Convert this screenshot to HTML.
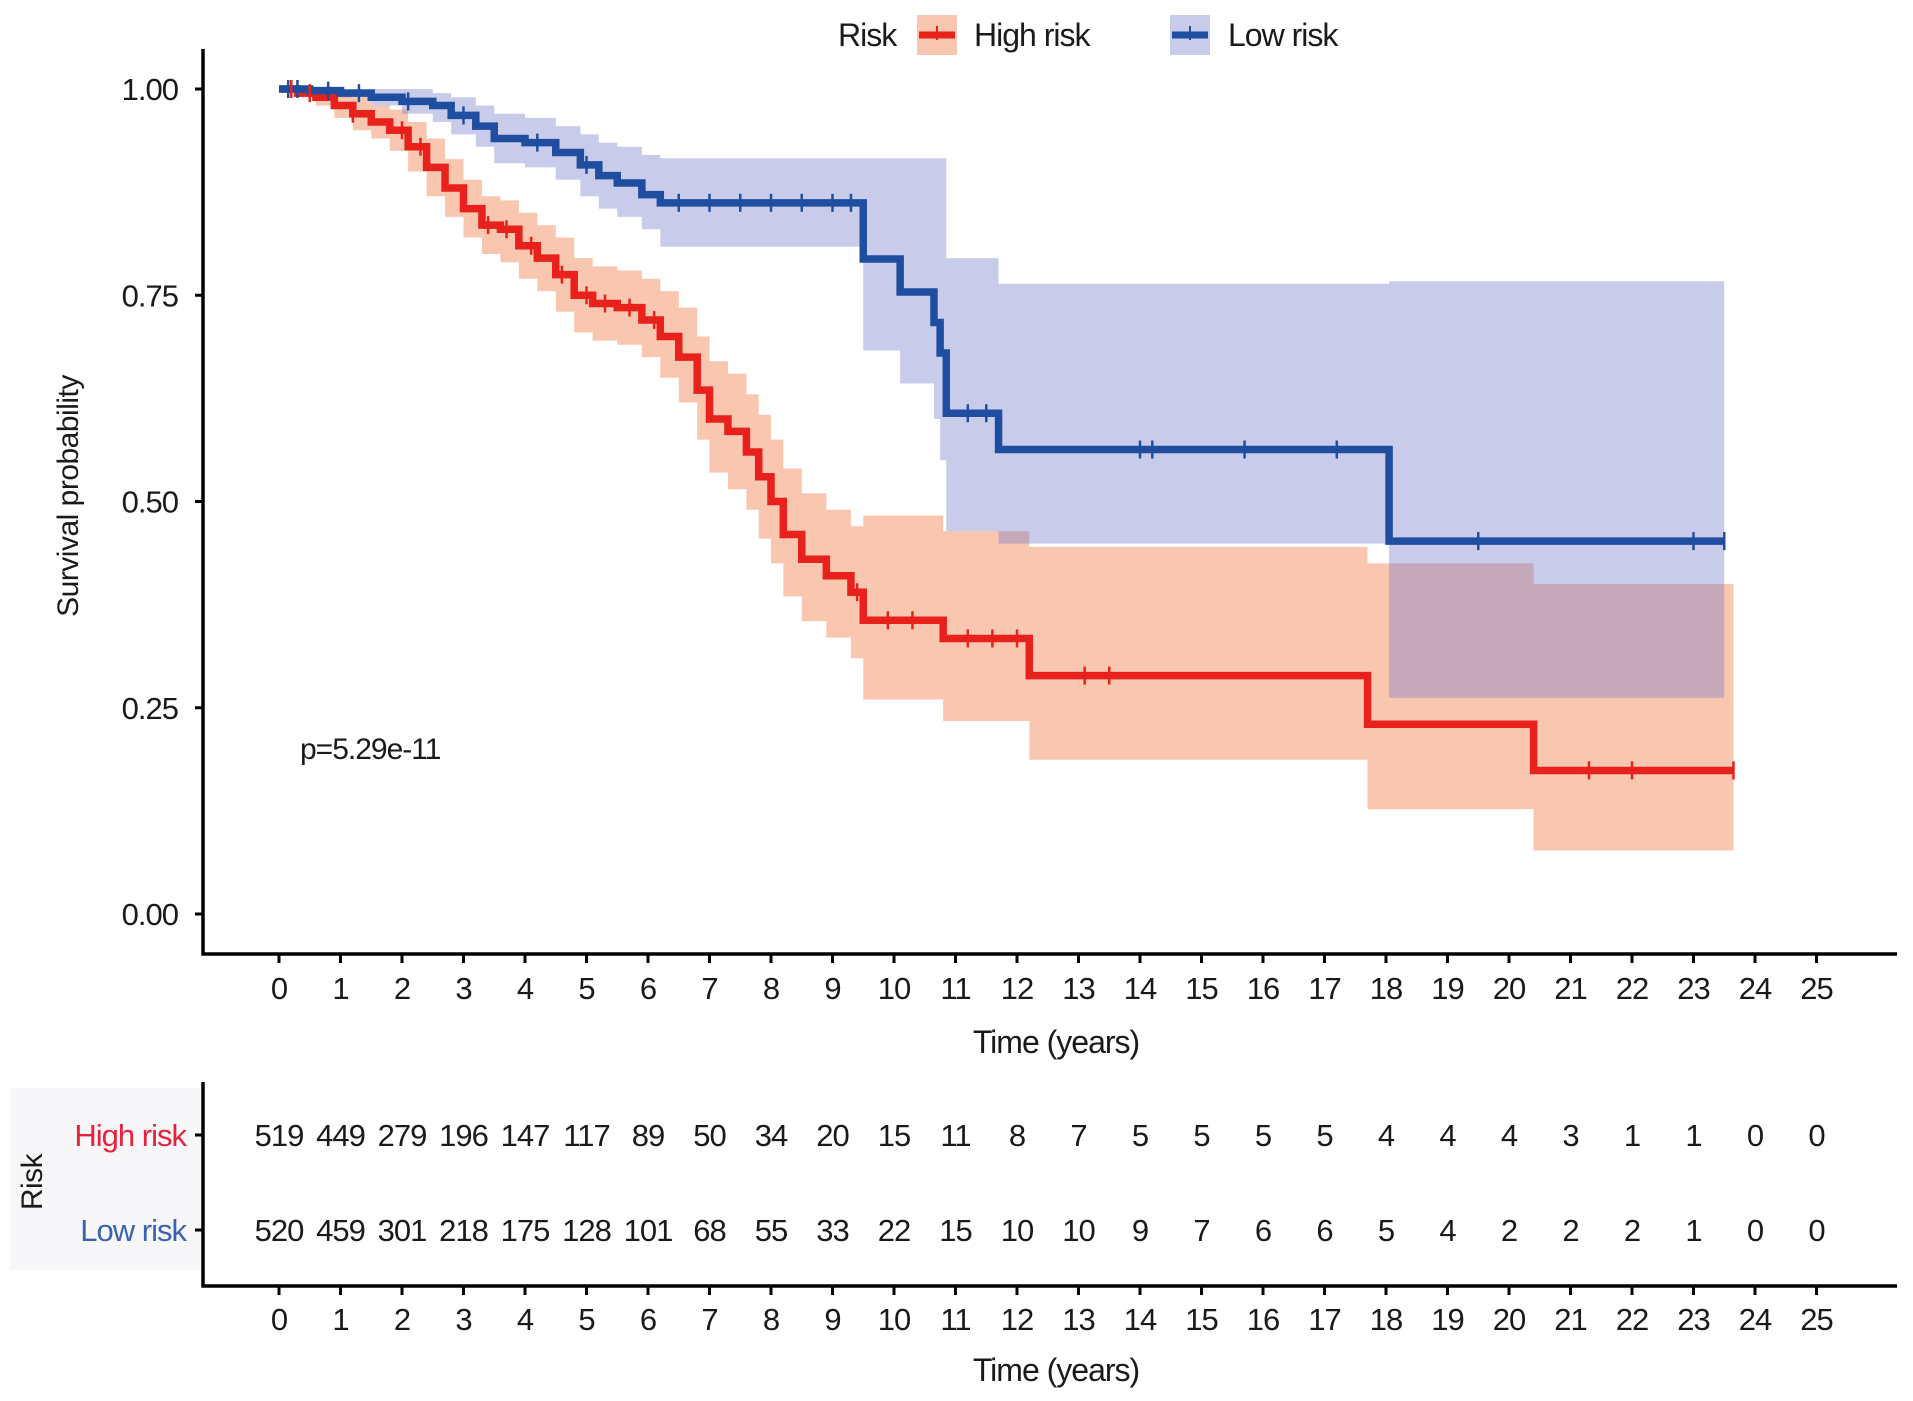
<!DOCTYPE html>
<html><head><meta charset="utf-8"><style>
html,body{margin:0;padding:0;background:#fff;}
svg{display:block;font-family:"Liberation Sans",Arial,sans-serif;}
</style></head><body>
<svg id="chart" width="1913" height="1401" viewBox="0 0 1913 1401">
<rect x="10" y="1088" width="193" height="182" fill="#f7f7fa"/>
<g id="bands"></g>
<g id="lines"></g>
<g id="axes"></g>
<g>
<text x="838" y="46" font-size="32" letter-spacing="-1" fill="#1a1a1a">Risk</text>
<g>
<rect x="917" y="15" width="40" height="40" fill="#f9c6b0"/>
<line x1="919" y1="35" x2="955" y2="35" stroke="#e8211c" stroke-width="7"/>
<line x1="937" y1="26" x2="937" y2="40" stroke="#e8211c" stroke-width="2"/>
<text x="974" y="46" font-size="32" letter-spacing="-1" fill="#1a1a1a">High risk</text></g>
<g>
<rect x="1170" y="15" width="40" height="40" fill="#c9cbeb"/>
<line x1="1172" y1="35" x2="1208" y2="35" stroke="#1f4ea1" stroke-width="7"/>
<line x1="1190" y1="26" x2="1190" y2="40" stroke="#1f4ea1" stroke-width="2"/>
<text x="1228" y="46" font-size="32" letter-spacing="-1" fill="#1a1a1a">Low risk</text></g>
</g>
<text x="300" y="759" font-size="30" letter-spacing="-1" fill="#1a1a1a">p=5.29e-11</text>
<text transform="translate(78,496) rotate(-90)" text-anchor="middle" font-size="30" letter-spacing="-0.5" fill="#1a1a1a">Survival probability</text>
<text x="1056" y="1053" text-anchor="middle" font-size="32" letter-spacing="-1" fill="#1a1a1a">Time (years)</text>
<text x="1056" y="1381" text-anchor="middle" font-size="32" letter-spacing="-1" fill="#1a1a1a">Time (years)</text>
<text transform="translate(42,1182) rotate(-90)" text-anchor="middle" font-size="30" letter-spacing="-0.5" fill="#1a1a1a">Risk</text>
<text x="186" y="1146" text-anchor="end" font-size="31" letter-spacing="-1" fill="#e8213a">High risk</text>
<text x="186" y="1241" text-anchor="end" font-size="31" letter-spacing="-1" fill="#3a62ad">Low risk</text>
<g id="table"></g>
</svg>
<script>
const xTicks=[0,1,2,3,4,5,6,7,8,9,10,11,12,13,14,15,16,17,18,19,20,21,22,23,24,25];
const yTicks=[0,0.25,0.5,0.75,1.0];
const yTickLabels=["0.00","0.25","0.50","0.75","1.00"];
const redT=[0,0.3,0.6,0.9,1.2,1.5,1.8,2.1,2.4,2.7,3.0,3.3,3.6,3.9,4.2,4.5,4.8,5.1,5.5,5.9,6.2,6.5,6.8,7.0,7.3,7.6,7.8,8.0,8.2,8.5,8.9,9.3,9.5,10.8,12.2,17.7,20.4];
const redS=[1.0,0.995,0.99,0.98,0.97,0.96,0.95,0.93,0.905,0.88,0.855,0.835,0.83,0.81,0.795,0.775,0.75,0.74,0.735,0.72,0.70,0.675,0.635,0.60,0.585,0.56,0.53,0.50,0.46,0.43,0.41,0.39,0.356,0.334,0.289,0.23,0.174];
const redHi=[1,1,1,0.995,0.99,0.98,0.975,0.96,0.94,0.915,0.89,0.87,0.865,0.85,0.835,0.82,0.795,0.785,0.78,0.77,0.755,0.735,0.70,0.67,0.655,0.63,0.605,0.575,0.54,0.51,0.49,0.47,0.483,0.464,0.445,0.425,0.40];
const redLo=[1,0.99,0.98,0.965,0.95,0.94,0.925,0.90,0.87,0.845,0.82,0.80,0.79,0.77,0.755,0.73,0.705,0.695,0.69,0.675,0.65,0.62,0.575,0.535,0.515,0.49,0.455,0.425,0.385,0.355,0.335,0.31,0.26,0.234,0.187,0.127,0.077];
const redEnd=23.65;
const blueT=[0,0.5,1.0,1.5,2.0,2.5,2.8,3.2,3.5,4.0,4.5,4.9,5.2,5.5,5.9,6.2,9.5,10.1,10.65,10.75,10.85,11.7,18.05];
const blueS=[1.0,0.998,0.995,0.99,0.985,0.98,0.968,0.955,0.94,0.935,0.923,0.908,0.895,0.886,0.872,0.862,0.794,0.754,0.717,0.68,0.607,0.563,0.452];
const blueHi=[1,1,1,1,1,0.995,0.99,0.98,0.97,0.965,0.955,0.945,0.935,0.93,0.92,0.916,0.916,0.916,0.916,0.916,0.795,0.764,0.767];
const blueLo=[1,0.995,0.99,0.98,0.97,0.96,0.945,0.93,0.91,0.905,0.89,0.87,0.855,0.845,0.83,0.809,0.683,0.643,0.60,0.55,0.464,0.449,0.262];
const blueEnd=23.5;
const redCensor=[0.2,0.5,1.2,2.0,2.3,3.4,3.7,4.1,4.6,5.0,5.3,5.7,6.1,9.4,9.9,10.3,11.2,11.6,12.0,13.1,13.5,21.3,22.0,23.65];
const blueCensor=[0.15,0.3,0.8,1.3,2.1,3.0,4.2,5.0,6.5,7.0,7.5,8.0,8.5,9.0,9.3,11.2,11.5,14.0,14.2,15.7,17.2,19.5,23.0,23.5];
const highRiskCounts=[519,449,279,196,147,117,89,50,34,20,15,11,8,7,5,5,5,5,4,4,4,3,1,1,0,0];
const lowRiskCounts=[520,459,301,218,175,128,101,68,55,33,22,15,10,10,9,7,6,6,5,4,2,2,2,1,0,0];

const NS="http://www.w3.org/2000/svg";
const X=t=>279+t*61.5;
const Y=s=>914-s*825;
function mk(tag,attrs,parent){const e=document.createElementNS(NS,tag);for(const k in attrs)e.setAttribute(k,attrs[k]);parent.appendChild(e);return e;}
function stepPath(T,V,end){let d="M"+X(T[0])+","+Y(V[0]);for(let i=1;i<T.length;i++){d+=" H"+X(T[i])+" V"+Y(V[i]);}d+=" H"+X(end);return d;}
function bandPath(T,lo,hi,end){let d="M"+X(T[0])+","+Y(hi[0]);for(let i=1;i<T.length;i++){d+=" H"+X(T[i])+" V"+Y(hi[i]);}d+=" H"+X(end)+" V"+Y(lo[lo.length-1]);for(let i=T.length-1;i>=1;i--){d+=" H"+X(T[i])+" V"+Y(lo[i-1]);}d+=" H"+X(T[0])+" Z";return d;}
function survAt(T,V,t){let v=V[0];for(let i=0;i<T.length;i++){if(T[i]<=t)v=V[i];}return v;}

const bands=document.getElementById('bands');
const rb=mk('path',{d:bandPath(redT,redLo,redHi,redEnd),fill:'#f9c6b0'},bands);


const bb=mk('path',{d:bandPath(blueT,blueLo,blueHi,blueEnd),fill:'rgb(120,125,205)','fill-opacity':'0.4'},bands);



const lines=document.getElementById('lines');
const rl=mk('path',{d:stepPath(redT,redS,redEnd),fill:'none',stroke:'#e8211c','stroke-width':7.5},lines);


const bl=mk('path',{d:stepPath(blueT,blueS,blueEnd),fill:'none',stroke:'#1f4ea1','stroke-width':7.5},lines);


redCensor.forEach(t=>{const y=Y(survAt(redT,redS,t));const c=mk('line',{x1:X(t),x2:X(t),y1:y-9,y2:y+9,stroke:'#e8211c','stroke-width':2.5},lines);

});
blueCensor.forEach(t=>{const y=Y(survAt(blueT,blueS,t));const c=mk('line',{x1:X(t),x2:X(t),y1:y-9,y2:y+9,stroke:'#1f4ea1','stroke-width':2.5},lines);

});

const axes=document.getElementById('axes');
mk('path',{d:"M203,49 V954 H1897",fill:'none',stroke:'#000','stroke-width':3.5},axes);
mk('path',{d:"M203,1082 V1286 H1897",fill:'none',stroke:'#000','stroke-width':3.5},axes);
yTicks.forEach((v,i)=>{mk('line',{x1:195,x2:203,y1:Y(v),y2:Y(v),stroke:'#000','stroke-width':3},axes);
const t=mk('text',{x:178,y:Y(v)+11,'text-anchor':'end','font-size':31,'letter-spacing':-1,fill:'#1a1a1a'},axes);t.textContent=yTickLabels[i];

});
xTicks.forEach(v=>{mk('line',{x1:X(v),x2:X(v),y1:954,y2:963,stroke:'#000','stroke-width':3},axes);
const t=mk('text',{x:X(v),y:999,'text-anchor':'middle','font-size':31,'letter-spacing':-1,fill:'#1a1a1a'},axes);t.textContent=v;


mk('line',{x1:X(v),x2:X(v),y1:1286,y2:1295,stroke:'#000','stroke-width':3},axes);
const t2=mk('text',{x:X(v),y:1330,'text-anchor':'middle','font-size':31,'letter-spacing':-1,fill:'#1a1a1a'},axes);t2.textContent=v;

});
[1135,1230].forEach(y=>mk('line',{x1:195,x2:203,y1:y,y2:y,stroke:'#000','stroke-width':3},axes));

const table=document.getElementById('table');
xTicks.forEach((v,i)=>{
const a=mk('text',{x:X(v),y:1146,'text-anchor':'middle','font-size':31,'letter-spacing':-1,fill:'#1a1a1a'},table);a.textContent=highRiskCounts[i];


const b=mk('text',{x:X(v),y:1241,'text-anchor':'middle','font-size':31,'letter-spacing':-1,fill:'#1a1a1a'},table);b.textContent=lowRiskCounts[i];

});
</script>
</body></html>
